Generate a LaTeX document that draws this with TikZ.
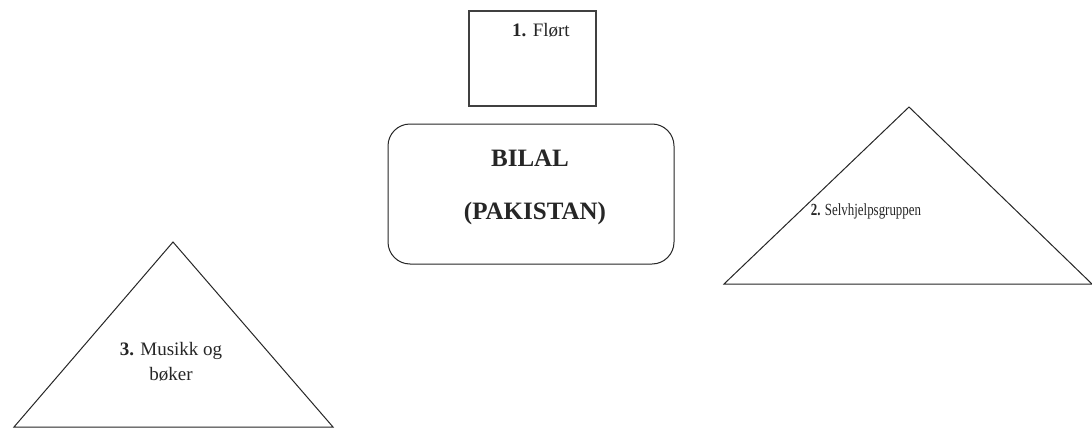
\documentclass[tikz,border=0pt]{standalone}
\usepackage{fontspec}
\setmainfont{Liberation Serif}
\begin{document}
\begin{tikzpicture}[x=1pt, y=-1pt,
  outline/.style={draw=black!85, line width=1pt, line join=miter},
  lbl/.style={inner sep=0pt, align=center, text=black!85}]
\useasboundingbox (0,0) rectangle (1092,428);
\fill[white] (0,0) rectangle (1092,428);

% box 1: Flørt
\draw[outline, line width=1.6pt, draw=black!75] (469,11) rectangle (596,106);
\node[lbl, font=\fontsize{19}{22}\selectfont] (flort) at (541,30) {\textbf{1.} Flørt};

% central rounded box
\draw[outline, rounded corners=22pt] (388,124) rectangle (674,264);
\node[lbl, font=\fontsize{25}{28}\selectfont\bfseries] (bilal) at (530,158) {BILAL};
\node[lbl, font=\fontsize{25}{28}\selectfont\bfseries] (pak) at (535,213) {(PAKISTAN)};

% triangle 2
\coordinate (t2a) at (909,107);
\coordinate (t2l) at (724,284);
\coordinate (t2r) at (1092,284);
\draw[outline] (t2a) -- (t2l) -- (t2r) -- cycle;
\node[lbl, font=\fontsize{17}{20}\selectfont] (selv) at (866,211)
  {\scalebox{0.76}[1]{\textbf{2.} Selvhjelpsgruppen}};

% triangle 3
\coordinate (t3a) at (173,242);
\coordinate (t3l) at (14,427);
\coordinate (t3r) at (333,427);
\draw[outline] (t3a) -- (t3l) -- (t3r) -- cycle;
\node[lbl, font=\fontsize{19}{25}\selectfont] (musikk) at (171,362) {\textbf{3.} Musikk og\\bøker};
\end{tikzpicture}
\end{document}
